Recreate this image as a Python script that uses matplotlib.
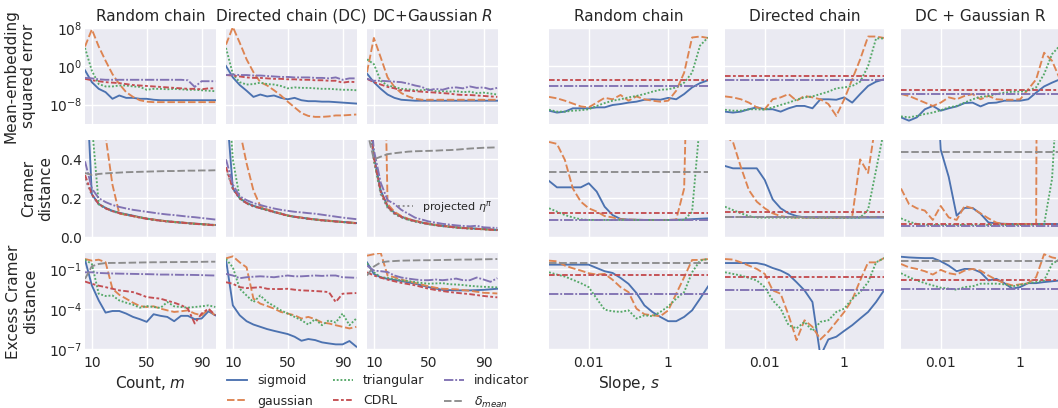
import numpy as np
import matplotlib
matplotlib.use("Agg")
import matplotlib.pyplot as plt
from matplotlib.lines import Line2D
from matplotlib.ticker import FixedLocator, NullLocator, FixedFormatter, LogFormatterMathtext

# ---------------- data ----------------
counts = [5, 10, 15, 20, 25, 30, 35, 40, 45, 50, 55, 60, 65, 70, 75, 80, 85, 90, 95, 100]
slopes = [0.001, 0.001585, 0.002512, 0.003981, 0.00631, 0.01, 0.01585, 0.02512, 0.03981, 0.0631,
          0.1, 0.1585, 0.2512, 0.3981, 0.631, 1.0, 1.585, 2.512, 3.981, 6.31, 10.0]

# Row 1: mean-embedding squared error (log10 values) vs count
mee_rc_sigmoid = [-0.8, -3.3, -4.7, -5.4, -6.8, -6.1, -6.6, -6.6, -6.8, -6.8, -7.0, -7.1, -7.1, -7.1, -7.1, -7.1, -7.1, -7.1, -7.1, -7.1]
mee_rc_gaussian = [4.2, 7.8, 4.2, 1.2, -1.6, -3.7, -5.4, -6.4, -7.1, -7.4, -7.5, -7.5, -7.5, -7.5, -7.5, -7.5, -7.5, -7.5, -7.5, -7.5]
mee_rc_triangular = [3.9, -0.9, -3.7, -4.2, -4.2, -4.0, -4.0, -4.2, -4.3, -4.9, -4.7, -4.7, -4.8, -4.7, -4.8, -4.9, -4.9, -5.0, -5.1, -5.2]
mee_rc_cdrl = [-2.6, -2.9, -3.1, -3.3, -3.4, -3.5, -3.7, -3.9, -4.0, -4.1, -4.2, -4.3, -4.4, -4.5, -4.6, -4.7, -4.7, -4.8, -4.6, -4.6]
mee_rc_indicator = [-2.4, -2.5, -2.7, -2.8, -2.8, -2.8, -2.8, -2.8, -2.8, -2.8, -2.8, -2.8, -2.8, -2.8, -2.8, -2.9, -4.3, -3.1, -3.1, -3.1]

mee_dc_sigmoid = [0.1, -2.3, -3.9, -5.1, -6.4, -5.9, -6.3, -6.1, -6.6, -6.9, -6.6, -7.1, -7.3, -7.3, -7.4, -7.4, -7.5, -7.6, -7.7, -7.8]
mee_dc_gaussian = [4.6, 8.3, 5.0, 1.5, -1.2, -3.3, -4.0, -5.0, -6.1, -7.4, -8.6, -9.8, -10.4, -10.6, -10.6, -10.5, -10.3, -10.3, -10.2, -10.1]
mee_dc_triangular = [3.9, -1.6, -3.3, -3.8, -3.7, -3.4, -3.7, -3.8, -4.1, -4.6, -4.4, -4.5, -4.5, -4.6, -4.7, -4.7, -4.8, -4.9, -4.9, -5.0]
mee_dc_cdrl = [-1.8, -1.9, -2.1, -2.3, -2.4, -2.4, -2.5, -2.6, -2.6, -2.7, -2.7, -2.8, -2.8, -2.9, -2.9, -3.0, -3.0, -3.4, -3.2, -3.3]
mee_dc_indicator = [-1.8, -1.7, -1.8, -1.8, -1.9, -1.9, -2.0, -2.1, -2.2, -2.2, -2.3, -2.3, -2.3, -2.4, -2.4, -2.5, -2.3, -2.8, -2.5, -2.5]

mee_dcg_sigmoid = [-1.5, -3.3, -4.7, -5.9, -6.6, -7.0, -7.1, -7.2, -7.2, -7.2, -7.2, -7.2, -7.2, -7.2, -7.2, -7.2, -7.2, -7.2, -7.2, -7.2]
mee_dcg_gaussian = [-1.2, 6.0, 1.9, -2.3, -4.3, -5.6, -6.3, -6.8, -7.0, -7.0, -7.0, -7.0, -7.0, -7.0, -7.0, -7.0, -7.0, -7.0, -7.0, -7.0]
mee_dcg_triangular = [1.5, 0.5, -3.0, -4.0, -4.3, -4.7, -4.8, -5.0, -5.0, -4.8, -5.2, -5.2, -5.3, -5.2, -5.4, -5.3, -5.6, -5.5, -5.7, -5.9]
mee_dcg_cdrl = [-2.6, -3.3, -3.8, -4.3, -4.6, -5.0, -5.1, -5.2, -5.3, -5.4, -5.5, -5.6, -5.7, -5.9, -6.0, -6.0, -6.1, -6.2, -6.3, -6.4]
mee_dcg_indicator = [-2.6, -3.0, -3.0, -3.1, -3.2, -3.3, -3.6, -4.0, -4.3, -5.0, -4.7, -4.9, -4.5, -4.4, -4.6, -4.2, -4.5, -4.4, -4.8, -4.5]

# Row 2: Cramer distance vs count
cr_rc_sigmoid = [0.95, 0.22, 0.17, 0.15, 0.135, 0.125, 0.117, 0.11, 0.102, 0.095, 0.09, 0.085, 0.081, 0.078, 0.075, 0.072, 0.069, 0.067, 0.064, 0.062]
cr_rc_gaussian = [2.0, 1.8, 1.2, 0.52, 0.27, 0.12, 0.115, 0.108, 0.101, 0.095, 0.09, 0.085, 0.081, 0.078, 0.075, 0.072, 0.069, 0.066, 0.064, 0.062]
cr_rc_triangular = [1.0, 0.58, 0.17, 0.15, 0.134, 0.124, 0.116, 0.109, 0.101, 0.095, 0.089, 0.085, 0.081, 0.077, 0.074, 0.071, 0.068, 0.066, 0.064, 0.061]
cr_rc_cdrl = [0.32, 0.22, 0.17, 0.148, 0.133, 0.123, 0.115, 0.108, 0.1, 0.094, 0.089, 0.084, 0.08, 0.077, 0.074, 0.071, 0.068, 0.066, 0.063, 0.061]
cr_rc_indicator = [0.39, 0.25, 0.2, 0.18, 0.165, 0.155, 0.147, 0.14, 0.135, 0.13, 0.125, 0.12, 0.116, 0.113, 0.109, 0.105, 0.102, 0.098, 0.094, 0.09]
cr_rc_delta = [0.33, 0.32, 0.325, 0.328, 0.33, 0.332, 0.334, 0.335, 0.336, 0.337, 0.338, 0.339, 0.34, 0.34, 0.341, 0.342, 0.342, 0.343, 0.343, 0.344]
cr_rc_projected = [0.3, 0.215, 0.168, 0.146, 0.132, 0.122, 0.114, 0.107, 0.1, 0.093, 0.088, 0.083, 0.079, 0.076, 0.073, 0.07, 0.067, 0.065, 0.062, 0.06]

cr_dc_sigmoid = [0.7, 0.25, 0.2, 0.176, 0.161, 0.15, 0.14, 0.13, 0.121, 0.111, 0.105, 0.1, 0.095, 0.091, 0.087, 0.084, 0.081, 0.078, 0.075, 0.072]
cr_dc_gaussian = [1.5, 1.0, 0.55, 0.38, 0.24, 0.16, 0.142, 0.131, 0.121, 0.111, 0.105, 0.1, 0.095, 0.09, 0.087, 0.084, 0.08, 0.078, 0.075, 0.072]
cr_dc_triangular = [0.9, 0.4, 0.2, 0.175, 0.16, 0.149, 0.139, 0.129, 0.12, 0.11, 0.104, 0.099, 0.094, 0.09, 0.086, 0.083, 0.08, 0.077, 0.074, 0.071]
cr_dc_cdrl = [0.36, 0.25, 0.2, 0.174, 0.159, 0.149, 0.139, 0.129, 0.119, 0.11, 0.104, 0.099, 0.094, 0.09, 0.086, 0.083, 0.08, 0.077, 0.074, 0.071]
cr_dc_indicator = [0.4, 0.27, 0.21, 0.19, 0.175, 0.165, 0.155, 0.147, 0.14, 0.135, 0.13, 0.127, 0.123, 0.12, 0.115, 0.11, 0.105, 0.1, 0.096, 0.092]
cr_dc_projected = [0.35, 0.245, 0.197, 0.172, 0.157, 0.147, 0.137, 0.127, 0.118, 0.109, 0.103, 0.098, 0.093, 0.089, 0.085, 0.082, 0.079, 0.076, 0.073, 0.07]

cr_dcg_sigmoid = [0.8, 0.42, 0.24, 0.16, 0.125, 0.105, 0.092, 0.083, 0.075, 0.068, 0.062, 0.058, 0.054, 0.05, 0.047, 0.045, 0.043, 0.041, 0.039, 0.037]
cr_dcg_gaussian = [3.0, 5.0, 2.0, 0.17, 0.13, 0.108, 0.094, 0.084, 0.076, 0.069, 0.063, 0.058, 0.054, 0.05, 0.047, 0.045, 0.042, 0.04, 0.038, 0.036]
cr_dcg_triangular = [0.85, 0.4, 0.23, 0.155, 0.122, 0.103, 0.09, 0.081, 0.073, 0.067, 0.061, 0.057, 0.053, 0.049, 0.046, 0.044, 0.042, 0.04, 0.038, 0.036]
cr_dcg_cdrl = [0.75, 0.41, 0.235, 0.158, 0.123, 0.104, 0.091, 0.082, 0.074, 0.067, 0.061, 0.057, 0.053, 0.049, 0.046, 0.044, 0.042, 0.04, 0.038, 0.035]
cr_dcg_indicator = [0.9, 0.45, 0.28, 0.19, 0.17, 0.14, 0.12, 0.1, 0.09, 0.08, 0.074, 0.068, 0.064, 0.06, 0.057, 0.055, 0.058, 0.05, 0.048, 0.047]
cr_dcg_delta = [0.55, 0.4, 0.414, 0.427, 0.432, 0.436, 0.44, 0.442, 0.443, 0.444, 0.445, 0.447, 0.448, 0.45, 0.453, 0.456, 0.458, 0.46, 0.461, 0.462]
cr_dcg_projected = [0.7, 0.39, 0.22, 0.15, 0.118, 0.1, 0.088, 0.079, 0.071, 0.065, 0.06, 0.055, 0.051, 0.048, 0.045, 0.043, 0.041, 0.039, 0.037, 0.035]

# Row 3: excess Cramer distance (log10 values) vs count
ex_rc_sigmoid = [-0.31, -2.23, -3.35, -4.26, -4.14, -4.14, -4.33, -4.58, -4.75, -4.95, -4.38, -4.5, -4.58, -4.9, -4.5, -4.5, -4.75, -4.7, -4.16, -4.46]
ex_rc_gaussian = [-0.26, -0.38, -0.31, -0.5, -2.48, -2.93, -3.22, -3.52, -3.77, -3.84, -3.79, -3.96, -4.09, -4.21, -4.16, -4.09, -4.33, -4.46, -4.01, -4.5]
ex_rc_triangular = [-0.31, -0.63, -2.85, -3.02, -2.98, -3.35, -3.52, -3.67, -3.89, -3.77, -3.84, -3.91, -3.47, -3.79, -3.84, -3.89, -3.84, -3.79, -3.72, -3.84]
ex_rc_cdrl = [-1.94, -2.11, -2.25, -2.36, -2.48, -2.6, -2.66, -2.73, -2.9, -3.1, -3.16, -3.22, -3.37, -3.52, -3.7, -3.96, -5.07, -4.33, -3.96, -4.46]
ex_rc_indicator = [-1.25, -1.25, -1.3, -1.32, -1.34, -1.35, -1.36, -1.37, -1.38, -1.39, -1.4, -1.42, -1.42, -1.43, -1.44, -1.44, -1.45, -1.46, -1.48, -1.49]
ex_rc_delta = [-1.74, -0.8, -0.63, -0.56, -0.55, -0.55, -0.54, -0.53, -0.52, -0.51, -0.5, -0.5, -0.49, -0.49, -0.48, -0.48, -0.47, -0.47, -0.46, -0.46]

ex_dc_sigmoid = [-0.31, -3.72, -4.46, -4.9, -5.15, -5.32, -5.49, -5.62, -5.74, -5.86, -6.06, -6.36, -6.23, -6.31, -6.48, -6.56, -6.63, -6.63, -6.38, -6.8]
ex_dc_gaussian = [-0.21, -0.06, -0.51, -0.88, -3.22, -3.59, -3.77, -3.96, -4.21, -4.33, -4.46, -4.7, -4.58, -4.75, -5.0, -5.07, -5.2, -5.32, -5.44, -5.32]
ex_dc_triangular = [-0.26, -0.88, -2.48, -2.98, -3.47, -2.98, -3.47, -3.77, -4.09, -4.33, -4.58, -4.83, -5.15, -4.75, -5.2, -4.83, -5.0, -4.33, -5.2, -4.7]
ex_dc_cdrl = [-1.99, -2.11, -2.36, -2.43, -2.4, -2.36, -2.48, -2.5, -2.5, -2.48, -2.55, -2.6, -2.62, -2.65, -2.68, -2.73, -3.47, -2.85, -2.82, -2.8]
ex_dc_indicator = [-1.37, -1.49, -1.69, -1.62, -1.58, -1.55, -1.58, -1.62, -1.55, -1.49, -1.55, -1.55, -1.52, -1.49, -1.52, -1.49, -1.49, -1.62, -1.64, -1.66]

ex_dcg_sigmoid = [-0.51, -1.37, -1.62, -1.74, -1.82, -1.9, -2.0, -2.1, -2.23, -2.36, -2.46, -2.56, -2.58, -2.6, -2.6, -2.6, -2.58, -2.56, -2.52, -2.48]
ex_dcg_gaussian = [-0.01, 0.1, 0.2, -1.49, -1.62, -1.8, -1.92, -2.04, -2.17, -2.3, -2.4, -2.48, -2.5, -2.52, -2.58, -2.63, -2.7, -2.78, -2.8, -2.83]
ex_dcg_triangular = [-0.58, -1.25, -1.62, -1.67, -1.77, -1.86, -1.9, -1.98, -2.05, -2.1, -2.08, -2.06, -2.14, -2.16, -2.2, -2.26, -2.3, -2.33, -2.35, -2.38]
ex_dcg_cdrl = [-1.25, -1.49, -1.65, -1.8, -1.92, -2.04, -2.13, -2.22, -2.35, -2.48, -2.57, -2.65, -2.72, -2.78, -2.83, -2.88, -2.95, -3.02, -3.07, -3.12]
ex_dcg_indicator = [-0.75, -1.12, -1.17, -1.23, -1.49, -1.64, -1.72, -1.79, -1.84, -1.84, -1.79, -1.84, -1.79, -1.72, -1.84, -1.84, -1.64, -1.79, -1.96, -1.69]
ex_dcg_delta = [-1.49, -0.82, -0.51, -0.44, -0.41, -0.38, -0.37, -0.36, -0.35, -0.35, -0.34, -0.33, -0.32, -0.31, -0.3, -0.3, -0.29, -0.28, -0.27, -0.26]

# Right block, row 1 (log10) vs slope
smee_rc_sigmoid = [-9.3, -9.7, -9.5, -8.8, -8.8, -8.8, -8.6, -8.6, -8.1, -7.9, -7.6, -7.4, -7.0, -6.9, -7.0, -6.6, -6.9, -5.8, -4.4, -3.5, -2.9]
smee_rc_gaussian = [-6.4, -6.7, -7.2, -7.8, -8.4, -8.6, -7.6, -6.6, -6.9, -6.0, -7.2, -6.3, -6.9, -7.2, -7.4, -7.2, -5.1, -1.3, 6.1, 6.3, 6.0]
smee_rc_triangular = [-9.1, -9.5, -9.5, -9.3, -9.2, -9.0, -8.3, -7.7, -7.2, -6.9, -6.5, -6.2, -5.8, -5.3, -4.9, -4.8, -4.4, -3.4, -1.3, 4.4, 6.1]
smee_rc_cdrl = -2.8
smee_rc_indicator = -4.1

smee_dc_sigmoid = [-9.5, -9.7, -9.5, -9.0, -8.6, -9.0, -9.0, -9.5, -8.8, -8.3, -8.3, -8.8, -6.9, -6.9, -7.0, -6.5, -7.6, -5.8, -4.1, -3.2, -2.7]
smee_dc_gaussian = [-6.3, -6.5, -6.9, -7.6, -8.6, -9.0, -6.9, -6.5, -5.8, -7.2, -6.2, -6.5, -6.9, -7.9, -10.4, -6.9, -2.7, 1.5, 6.3, 6.3, 6.0]
smee_dc_triangular = [-9.1, -9.3, -9.3, -9.0, -9.0, -9.1, -8.6, -8.1, -7.6, -7.0, -6.5, -6.3, -5.8, -5.3, -4.6, -4.4, -4.1, -3.2, 0.1, 5.9, 5.9]
smee_dc_cdrl = -2.1
smee_dc_indicator = -2.8

smee_dcg_sigmoid = [-10.7, -11.4, -10.7, -9.0, -8.3, -9.3, -8.8, -8.4, -7.7, -7.6, -8.4, -7.7, -7.6, -7.2, -7.2, -7.2, -6.9, -5.5, -4.2, -3.4, -2.7]
smee_dcg_gaussian = [-5.8, -6.2, -6.9, -7.6, -8.3, -7.6, -6.5, -6.9, -6.2, -5.8, -6.9, -6.2, -6.9, -7.0, -7.0, -6.9, -4.8, -2.7, 2.9, 1.2, -2.7]
smee_dcg_triangular = [-10.5, -10.7, -10.4, -10.0, -9.7, -9.2, -8.6, -8.3, -7.6, -6.9, -6.4, -6.2, -5.8, -5.5, -5.3, -5.3, -5.1, -4.4, -1.6, 2.6, 4.4]
smee_dcg_cdrl = -4.9
smee_dcg_indicator = -5.7

# Right block, row 2 (Cramer distance) vs slope
scr_rc_sigmoid = [0.289, 0.256, 0.256, 0.256, 0.256, 0.277, 0.234, 0.156, 0.113, 0.093, 0.09, 0.089, 0.088, 0.088, 0.088, 0.088, 0.089, 0.09, 0.092, 0.094, 0.096]
scr_rc_gaussian = [0.49, 0.48, 0.397, 0.25, 0.182, 0.148, 0.131, 0.108, 0.101, 0.091, 0.09, 0.089, 0.088, 0.088, 0.088, 0.088, 0.09, 0.25, 2.0, 5.0, 8.0]
scr_rc_triangular = [0.148, 0.131, 0.113, 0.101, 0.091, 0.088, 0.088, 0.088, 0.088, 0.088, 0.088, 0.088, 0.088, 0.088, 0.088, 0.088, 0.088, 0.088, 0.13, 0.6, 2.0]
scr_rc_cdrl = 0.124
scr_rc_indicator = 0.088
scr_rc_delta = 0.333

scr_dc_sigmoid = [0.366, 0.354, 0.354, 0.354, 0.354, 0.294, 0.194, 0.148, 0.122, 0.108, 0.101, 0.1, 0.1, 0.1, 0.1, 0.1, 0.1, 0.1, 0.1, 0.1, 0.1]
scr_dc_gaussian = [0.52, 0.49, 0.36, 0.242, 0.182, 0.148, 0.122, 0.108, 0.101, 0.1, 0.1, 0.1, 0.1, 0.1, 0.1, 0.1, 0.105, 0.4, 0.33, 0.6, 2.0]
scr_dc_triangular = [0.156, 0.139, 0.122, 0.108, 0.1, 0.1, 0.1, 0.1, 0.1, 0.1, 0.1, 0.1, 0.1, 0.1, 0.1, 0.1, 0.1, 0.1, 0.14, 0.345, 0.55]
scr_dc_cdrl = 0.127
scr_dc_indicator = 0.103
scr_dc_delta = 0.101

scr_dcg_sigmoid = [1.0, 1.0, 1.0, 1.0, 1.2, 0.45, 0.31, 0.11, 0.15, 0.15, 0.12, 0.075, 0.07, 0.068, 0.067, 0.067, 0.067, 0.067, 0.067, 0.067, 0.067]
scr_dcg_gaussian = [0.25, 0.17, 0.148, 0.136, 0.088, 0.16, 0.101, 0.088, 0.16, 0.148, 0.122, 0.096, 0.074, 0.067, 0.067, 0.067, 0.067, 0.067, 10.0, 10.0, 10.0]
scr_dcg_triangular = [0.096, 0.079, 0.067, 0.063, 0.062, 0.062, 0.062, 0.062, 0.062, 0.062, 0.062, 0.062, 0.062, 0.062, 0.062, 0.062, 0.062, 0.065, 0.065, 0.3, 1.0]
scr_dcg_cdrl = 0.067
scr_dcg_indicator = 0.057
scr_dcg_delta = 0.436

# Right block, row 3 (log10 excess Cramer) vs slope
sex_rc_sigmoid = [-0.68, -0.68, -0.68, -0.68, -0.68, -0.68, -0.93, -1.17, -1.3, -1.67, -2.11, -2.8, -3.72, -4.21, -4.58, -4.9, -4.9, -4.58, -4.09, -3.22, -2.31]
sex_rc_gaussian = [-0.38, -0.43, -0.75, -0.95, -1.12, -1.32, -1.42, -1.37, -1.81, -2.36, -2.73, -3.96, -4.38, -4.46, -4.53, -4.09, -2.85, -1.62, -0.33, -0.33, -0.26]
sex_rc_triangular = [-1.25, -1.42, -1.57, -1.81, -2.06, -2.36, -3.22, -4.04, -4.16, -4.21, -4.09, -4.7, -4.46, -4.53, -4.21, -3.79, -3.22, -2.73, -1.25, -0.38, -0.26]
sex_rc_cdrl = -1.44
sex_rc_indicator = -2.9
sex_rc_delta = -0.58

sex_dc_sigmoid = [-0.56, -0.56, -0.56, -0.56, -0.56, -0.68, -0.93, -1.12, -1.42, -1.99, -2.6, -3.47, -7.5, -6.26, -6.06, -5.62, -5.2, -4.7, -4.21, -3.47, -2.6]
sex_dc_gaussian = [-0.26, -0.3, -0.51, -0.75, -1.0, -1.37, -2.6, -2.85, -4.46, -6.31, -4.83, -5.32, -6.26, -5.69, -4.95, -4.21, -3.3, -1.86, -0.51, -0.51, -0.19]
sex_dc_triangular = [-1.25, -1.37, -1.49, -1.67, -1.86, -2.36, -3.35, -3.96, -5.2, -5.44, -4.95, -5.62, -4.95, -4.83, -4.21, -3.96, -3.22, -2.73, -1.99, -0.51, -0.19]
sex_dc_cdrl = -1.57
sex_dc_indicator = -2.56

sex_dcg_sigmoid = [-0.09, -0.14, -0.17, -0.19, -0.19, -0.43, -0.75, -1.17, -1.0, -1.0, -1.25, -1.86, -1.74, -2.06, -2.47, -2.35, -2.06, -2.06, -1.98, -1.92, -1.86]
sex_dcg_gaussian = [-0.63, -0.88, -1.0, -1.17, -1.42, -1.07, -1.32, -1.42, -1.12, -1.0, -1.12, -1.49, -1.81, -2.06, -2.23, -2.15, -2.06, -1.61, 0.1, -0.14, -0.26]
sex_dcg_triangular = [-1.32, -1.61, -1.86, -2.06, -2.23, -2.4, -2.47, -2.55, -2.35, -2.3, -2.1, -2.1, -2.1, -2.15, -2.3, -2.2, -2.06, -1.98, -1.86, -0.63, -0.26]
sex_dcg_cdrl = -1.86
sex_dcg_indicator = -2.47
sex_dcg_delta = -0.39

left_titles = ["Random chain", "Directed chain (DC)", "DC+Gaussian $R$"]
right_titles = ["Random chain", "Directed chain", "DC + Gaussian R"]
row_labels = ["Mean-embedding\nsquared error", "Cramer\ndistance", "Excess Cramer\ndistance"]
legend_labels = ["sigmoid", "gaussian", "triangular", "CDRL", "indicator", r"$\delta_{mean}$"]

# ---------------- style ----------------
plt.rcParams.update({
    "font.family": ["DejaVu Sans"],
    "mathtext.fontset": "dejavusans",
    "axes.facecolor": "#EAEAF2",
    "axes.edgecolor": "white",
    "axes.linewidth": 0,
    "axes.grid": True,
    "axes.axisbelow": True,
    "grid.color": "white",
    "grid.linewidth": 1.0,
    "text.color": ".15",
    "axes.labelcolor": ".15",
    "xtick.color": ".15",
    "ytick.color": ".15",
    "xtick.major.size": 0, "ytick.major.size": 0,
    "xtick.minor.size": 0, "ytick.minor.size": 0,
    "xtick.labelsize": 10, "ytick.labelsize": 10,
})

LW = 1.35
STY = {
    "sigmoid": dict(color="#4C72B0", dashes=()),
    "gaussian": dict(color="#DD8452", dashes=(4, 1.5)),
    "triangular": dict(color="#55A868", dashes=(1, 1)),
    "CDRL": dict(color="#C44E52", dashes=(3, 1.25, 1.5, 1.25)),
    "indicator": dict(color="#8172B3", dashes=(5, 1, 1, 1)),
    "delta": dict(color="#8C8C8C", dashes=(4, 1.5)),
    "projected": dict(color="#8C8C8C", dashes=(1, 1.5)),
}

W, H = 1058, 408
fig = plt.figure(figsize=(W / 100, H / 100), dpi=100)

rows_px = [(27.5, 124), (140, 237), (253, 350)]
left_cols_px = [(85, 216), (226, 357), (367, 498)]
right_cols_px = [(549, 708), (725, 884), (901, 1060)]
ylabel_pad = [9.5, 5, 7.5]


def add_ax(xs, ys):
    x0, x1 = xs
    y0, y1 = ys
    return fig.add_axes([x0 / W, 1 - y1 / H, (x1 - x0) / W, (y1 - y0) / H])


def line(ax, x, y, key, log=False):
    yy = 10.0 ** np.asarray(y) if log else np.asarray(y)
    st = STY[key]
    if st["dashes"]:
        ax.plot(x, yy, color=st["color"], lw=LW, dashes=st["dashes"])
    else:
        ax.plot(x, yy, color=st["color"], lw=LW)


def hline(ax, v, key, log=False):
    st = STY[key]
    ax.axhline(10.0 ** v if log else v, color=st["color"], lw=LW, dashes=st["dashes"])


left_data = [
    [  # row 1
        dict(sigmoid=mee_rc_sigmoid, gaussian=mee_rc_gaussian, triangular=mee_rc_triangular, CDRL=mee_rc_cdrl, indicator=mee_rc_indicator),
        dict(sigmoid=mee_dc_sigmoid, gaussian=mee_dc_gaussian, triangular=mee_dc_triangular, CDRL=mee_dc_cdrl, indicator=mee_dc_indicator),
        dict(sigmoid=mee_dcg_sigmoid, gaussian=mee_dcg_gaussian, triangular=mee_dcg_triangular, CDRL=mee_dcg_cdrl, indicator=mee_dcg_indicator),
    ],
    [  # row 2
        dict(projected=cr_rc_projected, sigmoid=cr_rc_sigmoid, gaussian=cr_rc_gaussian, triangular=cr_rc_triangular, CDRL=cr_rc_cdrl, indicator=cr_rc_indicator, delta=cr_rc_delta),
        dict(projected=cr_dc_projected, sigmoid=cr_dc_sigmoid, gaussian=cr_dc_gaussian, triangular=cr_dc_triangular, CDRL=cr_dc_cdrl, indicator=cr_dc_indicator),
        dict(projected=cr_dcg_projected, sigmoid=cr_dcg_sigmoid, gaussian=cr_dcg_gaussian, triangular=cr_dcg_triangular, CDRL=cr_dcg_cdrl, indicator=cr_dcg_indicator, delta=cr_dcg_delta),
    ],
    [  # row 3
        dict(sigmoid=ex_rc_sigmoid, gaussian=ex_rc_gaussian, triangular=ex_rc_triangular, CDRL=ex_rc_cdrl, indicator=ex_rc_indicator, delta=ex_rc_delta),
        dict(sigmoid=ex_dc_sigmoid, gaussian=ex_dc_gaussian, triangular=ex_dc_triangular, CDRL=ex_dc_cdrl, indicator=ex_dc_indicator),
        dict(sigmoid=ex_dcg_sigmoid, gaussian=ex_dcg_gaussian, triangular=ex_dcg_triangular, CDRL=ex_dcg_cdrl, indicator=ex_dcg_indicator, delta=ex_dcg_delta),
    ],
]

right_data = [
    [
        (dict(sigmoid=smee_rc_sigmoid, gaussian=smee_rc_gaussian, triangular=smee_rc_triangular), dict(CDRL=smee_rc_cdrl, indicator=smee_rc_indicator)),
        (dict(sigmoid=smee_dc_sigmoid, gaussian=smee_dc_gaussian, triangular=smee_dc_triangular), dict(CDRL=smee_dc_cdrl, indicator=smee_dc_indicator)),
        (dict(sigmoid=smee_dcg_sigmoid, gaussian=smee_dcg_gaussian, triangular=smee_dcg_triangular), dict(CDRL=smee_dcg_cdrl, indicator=smee_dcg_indicator)),
    ],
    [
        (dict(sigmoid=scr_rc_sigmoid, gaussian=scr_rc_gaussian, triangular=scr_rc_triangular), dict(CDRL=scr_rc_cdrl, indicator=scr_rc_indicator, delta=scr_rc_delta)),
        (dict(sigmoid=scr_dc_sigmoid, gaussian=scr_dc_gaussian, triangular=scr_dc_triangular), dict(CDRL=scr_dc_cdrl, indicator=scr_dc_indicator, delta=scr_dc_delta)),
        (dict(sigmoid=scr_dcg_sigmoid, gaussian=scr_dcg_gaussian, triangular=scr_dcg_triangular), dict(CDRL=scr_dcg_cdrl, indicator=scr_dcg_indicator, delta=scr_dcg_delta)),
    ],
    [
        (dict(sigmoid=sex_rc_sigmoid, gaussian=sex_rc_gaussian, triangular=sex_rc_triangular), dict(CDRL=sex_rc_cdrl, indicator=sex_rc_indicator, delta=sex_rc_delta)),
        (dict(sigmoid=sex_dc_sigmoid, gaussian=sex_dc_gaussian, triangular=sex_dc_triangular), dict(CDRL=sex_dc_cdrl, indicator=sex_dc_indicator)),
        (dict(sigmoid=sex_dcg_sigmoid, gaussian=sex_dcg_gaussian, triangular=sex_dcg_triangular), dict(CDRL=sex_dcg_cdrl, indicator=sex_dcg_indicator, delta=sex_dcg_delta)),
    ],
]

row_log = [True, False, True]
row_ylim = [(10 ** -12.1, 10 ** 8.2), (0.0, 0.5), (10 ** -7.05, 10 ** 0.19)]
row_yticks = [[1e-8, 1e0, 1e8], [0.0, 0.2, 0.4], [1e-7, 1e-4, 1e-1]]


def setup_y(ax, r, show_labels):
    if row_log[r]:
        ax.set_yscale("log")
        ax.yaxis.set_major_formatter(LogFormatterMathtext())
    ax.set_ylim(*row_ylim[r])
    ax.yaxis.set_major_locator(FixedLocator(row_yticks[r]))
    ax.yaxis.set_minor_locator(NullLocator())
    if not row_log[r]:
        ax.yaxis.set_major_formatter(FixedFormatter(["0.0", "0.2", "0.4"]))
    ax.tick_params(axis="y", pad=2)
    ax.tick_params(axis="x", pad=4)
    if not show_labels:
        ax.tick_params(axis="y", labelleft=False)


for r in range(3):
    for c in range(3):
        ax = add_ax(left_cols_px[c], rows_px[r])
        for key, vals in left_data[r][c].items():
            line(ax, counts, vals, key, log=row_log[r])
        ax.set_xlim(5, 100.5)
        ax.xaxis.set_major_locator(FixedLocator([10, 50, 90]))
        ax.xaxis.set_minor_locator(NullLocator())
        setup_y(ax, r, c == 0)
        if r < 2:
            ax.tick_params(axis="x", labelbottom=False)
        if r == 0:
            ax.set_title(left_titles[c], fontsize=11, pad=5)
        if c == 0:
            ax.set_ylabel(row_labels[r], fontsize=11, labelpad=ylabel_pad[r])
        if r == 2 and c == 0:
            ax.set_xlabel("Count, $m$", fontsize=11, labelpad=3)
        if r == 1 and c == 2:
            h = Line2D([], [], color=STY["projected"]["color"], lw=LW, dashes=STY["projected"]["dashes"])
            ax.legend([h], [r"projected $\eta^{\pi}$"], loc="center left", bbox_to_anchor=(0.24, 0.31),
                      frameon=False, fontsize=8, handlelength=1.3, handletextpad=0.8,
                      borderpad=0, borderaxespad=0)

    for c in range(3):
        ax = add_ax(right_cols_px[c], rows_px[r])
        series, consts = right_data[r][c]
        for key, vals in series.items():
            line(ax, slopes, vals, key, log=row_log[r])
        for key, v in consts.items():
            hline(ax, v, key, log=row_log[r])
        ax.set_xscale("log")
        ax.set_xlim(1e-3, 10)
        ax.xaxis.set_major_locator(FixedLocator([0.01, 1]))
        ax.xaxis.set_minor_locator(NullLocator())
        ax.xaxis.set_major_formatter(FixedFormatter(["0.01", "1"]))
        setup_y(ax, r, False)
        if r < 2:
            ax.tick_params(axis="x", labelbottom=False)
        if r == 0:
            ax.set_title(right_titles[c], fontsize=11, pad=5)
        if r == 2 and c == 0:
            ax.set_xlabel("Slope, $s$", fontsize=11, labelpad=3)

handles = [Line2D([], [], color=STY[k]["color"], lw=LW, dashes=STY[k]["dashes"]) if STY[k]["dashes"]
           else Line2D([], [], color=STY[k]["color"], lw=LW)
           for k in ["sigmoid", "gaussian", "triangular", "CDRL", "indicator", "delta"]]
fig.legend(handles, legend_labels, ncol=3, loc="upper left", bbox_to_anchor=(227 / W, 1 - 374 / H),
           frameon=False, fontsize=9, handlelength=1.6, columnspacing=1.6, handletextpad=0.8,
           labelspacing=0.6, borderpad=0, borderaxespad=0)

fig.savefig("out.png", dpi=100)
